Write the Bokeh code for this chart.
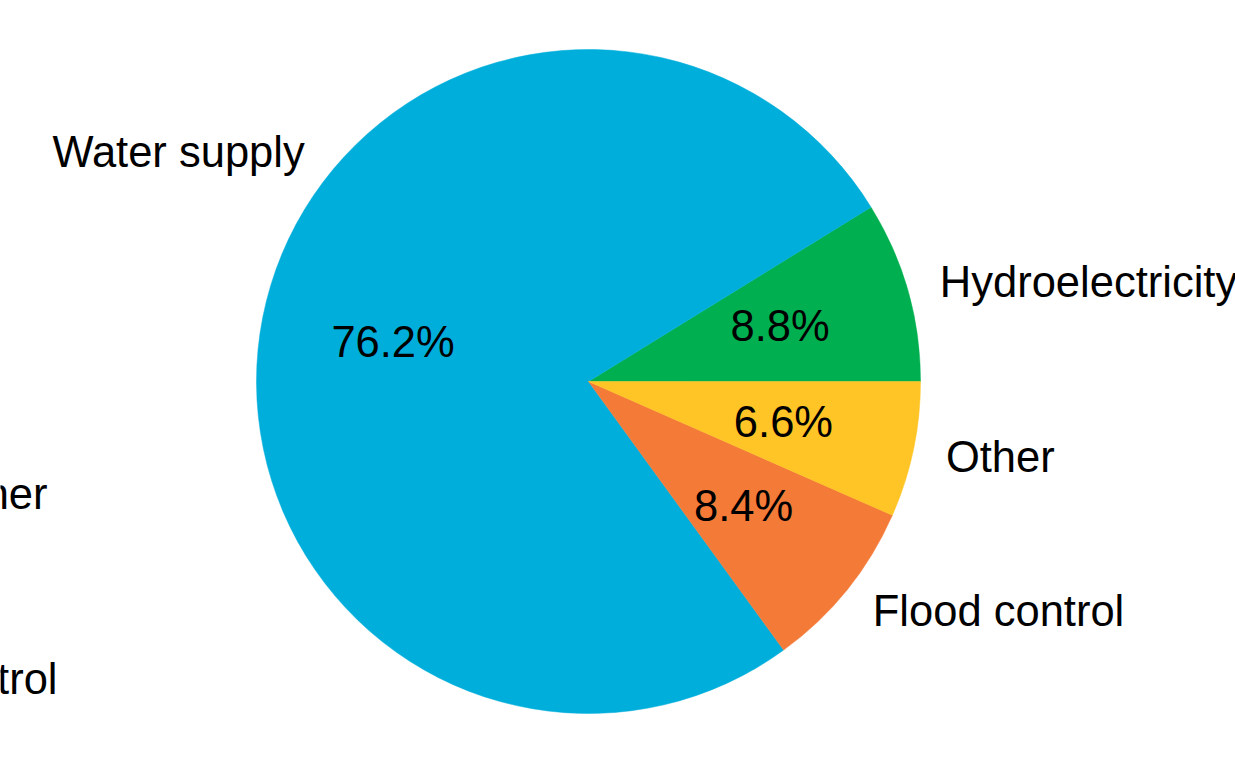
import numpy as np
from bokeh.plotting import figure
from bokeh.models import ColumnDataSource, Range1d
from bokeh.core.properties import value
from bokeh.embed import file_html
from bokeh.resources import INLINE

# Share of reservoir purposes (%), counter-clockwise from the east
categories = ["Hydroelectricity", "Water supply", "Flood control", "Other"]
shares = [8.8, 76.2, 8.4, 6.6]
colors = ["#00B050", "#00AEDB", "#F47A38", "#FFC425"]
# Where each category label sits around the rim (degrees); None = slice middle
label_angle_override = [None, 141.0, None, None]

# Labels of the neighbouring pie that run in from the left edge
side_labels = ["Other", "Flood control"]
side_label_x = [47, 57]
side_label_y = [270, 85]

W, H = 1235, 763
cx, cy, r = 588, 382, 332
FONT = "Liberation Sans"
FS = "43.5px"

frac = np.array(shares) / sum(shares)
ends = np.cumsum(frac) * 2 * np.pi
starts = np.concatenate([[0.0], ends[:-1]])
mids = (starts + ends) / 2

p = figure(width=W, height=H, output_backend="svg", toolbar_location=None,
           x_range=Range1d(0, W), y_range=Range1d(0, H),
           min_border=0, outline_line_color=None)
p.axis.visible = False
p.grid.visible = False
p.background_fill_color = "white"
p.border_fill_color = "white"

src = ColumnDataSource(dict(start=starts, end=ends, color=colors, cat=categories))
p.wedge(x=cx, y=cy, radius=r, start_angle="start", end_angle="end",
        fill_color="color", line_color="color", line_width=0.5, source=src)

# Percentage labels at 0.6 of the radius
pct_txt = [f"{s:.1f}%" for s in shares]
p.text(x=cx + 0.6 * r * np.cos(mids), y=cy + 0.6 * r * np.sin(mids) + 1, text=pct_txt,
       text_font=value(FONT), text_font_size=FS, text_color="black",
       text_align="center", text_baseline="middle")

# Category labels at 1.1 of the radius
la = np.array([np.deg2rad(o) if o is not None else m
               for o, m in zip(label_angle_override, mids)])
lx = cx + 1.1 * r * np.cos(la)
ly = cy + 1.1 * r * np.sin(la)
align = ["left" if np.cos(a) >= 0 else "right" for a in la]
p.text(x=lx, y=ly, text=categories, text_align=align,
       text_font=value(FONT), text_font_size=FS, text_color="black",
       text_baseline="middle")

p.text(x=side_label_x, y=side_label_y, text=side_labels, text_align="right",
       text_font=value(FONT), text_font_size=FS, text_color="black",
       text_baseline="alphabetic")

open("out.html", "w").write(file_html(p, INLINE))
